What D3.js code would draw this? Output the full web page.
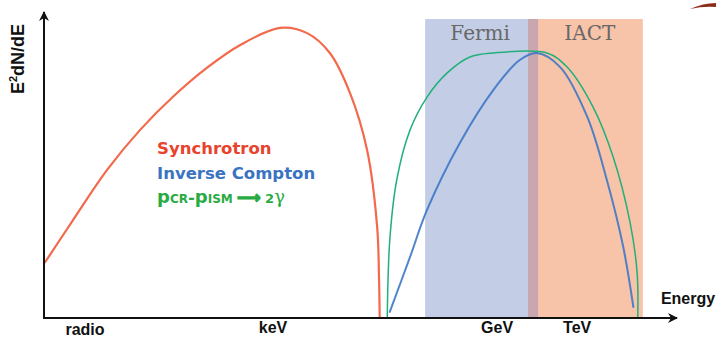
<!DOCTYPE html>
<meta charset='utf-8'>
<head>
    <title>SED sketch</title>
    <script src='https://cdn.jsdelivr.net/npm/d3@7/dist/d3.min.js'></script>
</head>

<style>
    body { margin: 0; background: white; }
    .curve { fill: none; stroke-linecap: round; }
    .tick { font-family: Arial, 'Liberation Sans', sans-serif; font-weight: bold; font-size: 16px; fill: #111; }
    .legend { font-family: 'DejaVu Sans', Verdana, sans-serif; font-weight: bold; font-size: 16.5px; }
    .band-label { font-family: 'DejaVu Serif', serif; font-size: 20px; fill: #676767; }
</style>

<svg></svg>

<script>
    var vWidth = 716;
    var vHeight = 338;

    // schematic units: energy 0..100 (left to right), flux 0..100
    var synchrotron = [
        [0.2, 18.3], [4.6, 32.0], [10.0, 48.4], [15.2, 61.4], [20.4, 72.2],
        [25.8, 81.7], [31.1, 89.2], [37.4, 94.8], [41.7, 93.1], [45.3, 86.6],
        [48.5, 73.5], [51.2, 54.9], [52.8, 29.7], [53.1, 12.4], [53.2, 0]
    ];
    var inverseCompton = [
        [54.8, 2.0], [58.0, 19.9], [60.7, 35.3], [65.9, 57.2], [71.2, 74.5],
        [75.4, 84.3], [78.1, 86.6], [81.8, 82.0], [86.1, 65.7], [89.2, 45.1],
        [91.8, 23.2], [93.4, 3.6]
    ];
    var ppGamma = [
        [54.4, 0], [54.8, 25.5], [55.9, 45.1], [58.0, 61.4], [60.7, 72.2],
        [63.9, 80.1], [67.5, 85.3], [71.2, 86.6], [79.7, 86.6], [82.9, 82.0],
        [87.0, 69.0], [90.2, 52.6], [92.9, 31.0], [94.0, 14.7], [94.1, 0]
    ];
    var bands = [
        {name: 'Fermi', from: 60.4, to: 78.3, top: 97.7},
        {name: 'IACT', from: 76.7, to: 94.9, top: 97.7}
    ];
    var tickNames = ['radio', 'keV', 'GeV', 'TeV'];
    var tickPos = [6.5, 36.3, 71.8, 84.5];

    var svg = d3.select('svg').attr('width', vWidth).attr('height', vHeight);

    var x = d3.scaleLinear().domain([0, 100]).range([44, 675]);
    var y = d3.scaleLinear().domain([0, 100]).range([318, 12]);

    // detector bands
    var bandColors = ['#c3cde5', '#f7c3a9'];
    svg.selectAll('rect.band').data(bands).enter().append('rect')
        .attr('class', 'band')
        .attr('x', function(d) { return x(d.from); })
        .attr('y', function(d) { return y(d.top); })
        .attr('width', function(d) { return x(d.to) - x(d.from); })
        .attr('height', function(d) { return y(0) - y(d.top); })
        .attr('fill', function(d, i) { return bandColors[i]; });

    // overlap of the two bands
    svg.append('rect')
        .attr('x', x(bands[1].from))
        .attr('y', y(bands[0].top))
        .attr('width', x(bands[0].to) - x(bands[1].from))
        .attr('height', y(0) - y(bands[0].top))
        .attr('fill', '#c8a7b1');

    svg.selectAll('text.band-label').data(bands).enter().append('text')
        .attr('class', 'band-label')
        .attr('x', function(d, i) { return i == 0 ? x(d.from) + 55 : x(d.to) - 53; })
        .attr('y', y(bands[0].top) + 21)
        .attr('text-anchor', 'middle')
        .text(function(d) { return d.name; });

    // curves
    var line = d3.line()
        .x(function(d) { return x(d[0]); })
        .y(function(d) { return y(d[1]); })
        .curve(d3.curveCatmullRom.alpha(0.5));

    svg.append('path').attr('class', 'curve').attr('d', line(synchrotron))
        .attr('stroke', '#f26a4b').attr('stroke-width', 2.2);
    svg.append('path').attr('class', 'curve').attr('d', line(ppGamma))
        .attr('stroke', '#21b07a').attr('stroke-width', 1.5);
    svg.append('path').attr('class', 'curve').attr('d', line(inverseCompton))
        .attr('stroke', '#3d78c6').attr('stroke-width', 2).attr('opacity', 0.9);

    // axes with arrow heads
    var defs = svg.append('defs');
    defs.append('marker').attr('id', 'arrow')
        .attr('viewBox', '0 0 10 10').attr('refX', 9).attr('refY', 5)
        .attr('markerWidth', 5).attr('markerHeight', 5).attr('orient', 'auto')
        .append('path').attr('d', 'M0,0 L10,5 L0,10 L3,5 Z').attr('fill', '#111');

    svg.append('line')
        .attr('x1', x(0)).attr('y1', y(0)).attr('x2', x(0)).attr('y2', y(100))
        .attr('stroke', '#111').attr('stroke-width', 2).attr('marker-end', 'url(#arrow)');
    svg.append('line')
        .attr('x1', x(0) - 1).attr('y1', y(0)).attr('x2', x(100) + 2).attr('y2', y(0))
        .attr('stroke', '#111').attr('stroke-width', 2).attr('marker-end', 'url(#arrow)');

    svg.selectAll('text.tick').data(tickNames).enter().append('text')
        .attr('class', 'tick')
        .attr('x', function(d, i) { return x(tickPos[i]); })
        .attr('y', function(d, i) { return i == 0 ? 335 : 333; })
        .attr('text-anchor', 'middle')
        .text(function(d) { return d; });

    svg.append('text').attr('class', 'tick')
        .attr('x', 688).attr('y', 304).attr('text-anchor', 'middle')
        .text('Energy');

    var yl = svg.append('text').attr('class', 'tick')
        .style('font-size', '18px')
        .attr('transform', 'translate(24,59) rotate(-90)')
        .attr('text-anchor', 'middle');
    yl.append('tspan').text('E');
    yl.append('tspan').attr('dy', -7).style('font-size', '11px').text('2');
    yl.append('tspan').attr('dy', 7).text('dN/dE');

    // legend
    var lg = svg.append('g').attr('class', 'legend').attr('transform', 'translate(157,0)');
    lg.append('text').attr('y', 154).attr('fill', '#e8432c').text('Synchrotron');
    lg.append('text').attr('y', 179).attr('fill', '#3b73c3').text('Inverse Compton');
    var pp = lg.append('text').attr('y', 203).attr('fill', '#29ab43');
    pp.append('tspan').style('font-size', '18px').text('p');
    pp.append('tspan').style('font-size', '12px').text('CR');
    pp.append('tspan').text('-');
    pp.append('tspan').style('font-size', '18px').text('p');
    pp.append('tspan').style('font-size', '12px').text('ISM ');
    pp.append('tspan').style('font-family', 'DejaVu Sans')
        .attr('stroke', '#29ab43').attr('stroke-width', 1.2).text('\u27f6');
    pp.append('tspan').style('font-size', '13px').text(' 2');
    pp.append('tspan').style('font-family', 'DejaVu Serif').style('font-weight', 'normal')
        .style('font-size', '18px').text('\u03b3');

    // stray slide decoration top right
    svg.append('path')
        .attr('d', 'M690,9 Q703,3 716,3 L716,7 Q703,6 690,9 Z')
        .attr('fill', '#8e2c1c');
</script>
